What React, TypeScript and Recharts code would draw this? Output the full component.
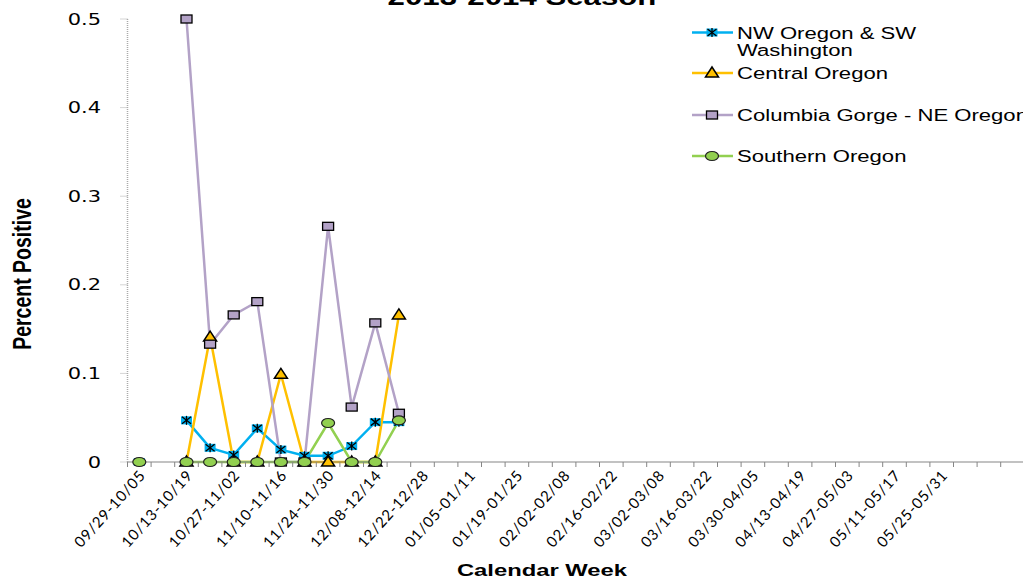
import React from "react"
import { LineChart, Line, XAxis, YAxis } from "recharts"

// week categories (every other one gets a label on the axis)
const weeks = [
  "09/29-10/05", "10/06-10/12", "10/13-10/19", "10/20-10/26", "10/27-11/02",
  "11/03-11/09", "11/10-11/16", "11/17-11/23", "11/24-11/30", "12/01-12/07",
  "12/08-12/14", "12/15-12/21", "12/22-12/28", "12/29-01/04", "01/05-01/11",
  "01/12-01/18", "01/19-01/25", "01/26-02/01", "02/02-02/08", "02/09-02/15",
  "02/16-02/22", "02/23-03/01", "03/02-03/08", "03/09-03/15", "03/16-03/22",
  "03/23-03/29", "03/30-04/05", "04/06-04/12", "04/13-04/19", "04/20-04/26",
  "04/27-05/03", "05/04-05/10", "05/11-05/17", "05/18-05/24", "05/25-05/31",
  "", "", "", "", "", "",
]

const nwOregon = [0, null, 0.047, 0.016, 0.008, 0.038, 0.014, 0.007, 0.007, 0.018, 0.045, 0.045]
const centralOregon = [null, null, 0, 0.141, 0, 0, 0.099, 0, 0, 0, 0, 0.166]
const columbiaGorge = [null, null, 0.5, 0.133, 0.166, 0.181, 0, 0, 0.266, 0.062, 0.157, 0.055]
const southernOregon = [0, null, 0, 0, 0, 0, 0, 0, 0.044, 0, 0, 0.047]

const yTicks = [0, 0.1, 0.2, 0.3, 0.4, 0.5]

const data = weeks.map((week, i) => ({
  idx: i,
  week,
  nw: nwOregon[i] ?? null,
  central: centralOregon[i] ?? null,
  columbia: columbiaGorge[i] ?? null,
  southern: southernOregon[i] ?? null,
}))

const BAND = 23.6
const PLOT_LEFT = 127.5
const CHART_W = 1100
const PLOT_W = weeks.length * BAND

const series = [
  { key: "nw", name: "NW Oregon & SW", name2: "Washington", color: "#00B0F0", kind: "star", legendY: 32.5 },
  { key: "central", name: "Central Oregon", color: "#FFC000", kind: "triangle", legendY: 73 },
  { key: "columbia", name: "Columbia Gorge - NE Oregon", color: "#B3A2C7", kind: "square", legendY: 115 },
  { key: "southern", name: "Southern Oregon", color: "#92D050", kind: "circle", legendY: 156 },
]

function Marker({ kind, cx, cy }: { kind: string; cx: number; cy: number }) {
  if (kind === "star") {
    return (
      <g>
        <rect x={cx - 5.5} y={cy - 4} width={11} height={8} fill="#00B0F0" />
        <g stroke="#000" strokeWidth={1.3}>
          <line x1={cx - 4.5} y1={cy - 3.5} x2={cx + 4.5} y2={cy + 3.5} />
          <line x1={cx - 4.5} y1={cy + 3.5} x2={cx + 4.5} y2={cy - 3.5} />
          <line x1={cx} y1={cy - 4.5} x2={cx} y2={cy + 4.5} />
        </g>
      </g>
    )
  }
  if (kind === "triangle") {
    return (
      <polygon
        points={`${cx},${cy - 6} ${cx + 6.5},${cy + 4} ${cx - 6.5},${cy + 4}`}
        fill="#FFC000"
        stroke="#000"
        strokeWidth={1.5}
      />
    )
  }
  if (kind === "square") {
    return <rect x={cx - 5.5} y={cy - 4} width={11} height={8} fill="#B3A2C7" stroke="#000" strokeWidth={1.3} />
  }
  return <ellipse cx={cx} cy={cy} rx={6.5} ry={4.5} fill="#92D050" stroke="#222" strokeWidth={1.2} />
}

const dotFor = (kind: string) => (props: any) => {
  const { cx, cy, value, index } = props
  if (value == null || cx == null || cy == null) return <g key={`${kind}-${index}`} />
  return (
    <g key={`${kind}-${index}`}>
      <Marker kind={kind} cx={cx} cy={cy} />
    </g>
  )
}

function WeekTick(props: any) {
  const { x, y, payload, index } = props
  const label = weeks[payload.value]
  return (
    <g>
      <line x1={x - BAND / 2} y1={y} x2={x - BAND / 2} y2={y + 5} stroke="#868686" />
      {index % 2 === 0 && label ? (
        <text
          transform={`translate(${x + 7},${y + 14}) rotate(-48)`}
          textAnchor="end"
          fontFamily="Lato, sans-serif"
          fontSize={15}
          letterSpacing={0.8}
          fill="#000"
        >
          {label}
        </text>
      ) : null}
    </g>
  )
}

function PctTick(props: any) {
  const { x, y, payload } = props
  return (
    <text
      transform={`translate(${x},${y + 5.5}) scale(1.4,1)`}
      textAnchor="end"
      fontFamily="'DejaVu Sans', sans-serif"
      fontSize={15}
      fill="#000"
    >
      {payload.value}
    </text>
  )
}

export default function App() {
  return (
    <div
      style={{
        position: "absolute",
        left: 0,
        top: 0,
        width: 1023,
        height: 578,
        overflow: "hidden",
        background: "#fff",
      }}
    >
      <LineChart
        width={CHART_W}
        height={578}
        data={data}
        margin={{ top: 19, right: CHART_W - PLOT_LEFT - PLOT_W, bottom: 0, left: 60 }}
      >
        <XAxis
          dataKey="idx"
          type="category"
          interval={0}
          height={116}
          padding={{ left: BAND / 2, right: BAND / 2 }}
          tickLine={false}
          tickSize={0}
          tickMargin={0}
          axisLine={{ stroke: "#868686", strokeWidth: 1.2 }}
          tick={<WeekTick />}
        />
        <YAxis
          type="number"
          domain={[0, 0.5]}
          ticks={yTicks}
          width={PLOT_LEFT - 60}
          tickSize={7}
          tickMargin={19.5}
          tickLine={{ stroke: "#aaa", strokeDasharray: "1 1" }}
          axisLine={{ stroke: "#aaa", strokeWidth: 1.5, strokeDasharray: "1 1" }}
          tick={<PctTick />}
        />
        {series.map((s) => (
          <Line
            key={s.key}
            dataKey={s.key}
            stroke={s.color}
            strokeWidth={2.5}
            dot={dotFor(s.kind)}
            activeDot={false}
            isAnimationActive={false}
          />
        ))}
      </LineChart>
      <svg
        width={1023}
        height={578}
        style={{ position: "absolute", left: 0, top: 0, pointerEvents: "none" }}
      >
        <text
          transform="translate(522,5) scale(1.3,1)"
          textAnchor="middle"
          fontFamily="'Liberation Sans', Arial, sans-serif"
          fontWeight="bold"
          fontSize={24}
        >
          2013-2014 Season
        </text>
        <text
          transform="translate(542,576) scale(1.4,1)"
          textAnchor="middle"
          fontFamily="'Liberation Sans', Arial, sans-serif"
          fontWeight="bold"
          fontSize={17}
        >
          Calendar Week
        </text>
        <text
          transform="translate(31,274) scale(1.3,1) rotate(-90)"
          textAnchor="middle"
          fontFamily="'Liberation Sans Narrow', 'Arial Narrow', sans-serif"
          fontWeight="bold"
          fontSize={19.5}
        >
          Percent Positive
        </text>
        {series.map((s) => (
          <g key={s.key}>
            <line x1={692} y1={s.legendY} x2={733} y2={s.legendY} stroke={s.color} strokeWidth={2.5} />
            <Marker kind={s.kind} cx={712} cy={s.legendY} />
            <text
              transform={`translate(737,${s.legendY + 6}) scale(1.3,1)`}
              fontFamily="'Liberation Sans', Arial, sans-serif"
              fontSize={17}
            >
              {s.name}
            </text>
            {s.name2 ? (
              <text
                transform={`translate(737,${s.legendY + 23.5}) scale(1.3,1)`}
                fontFamily="'Liberation Sans', Arial, sans-serif"
                fontSize={17}
              >
                {s.name2}
              </text>
            ) : null}
          </g>
        ))}
      </svg>
    </div>
  )
}
